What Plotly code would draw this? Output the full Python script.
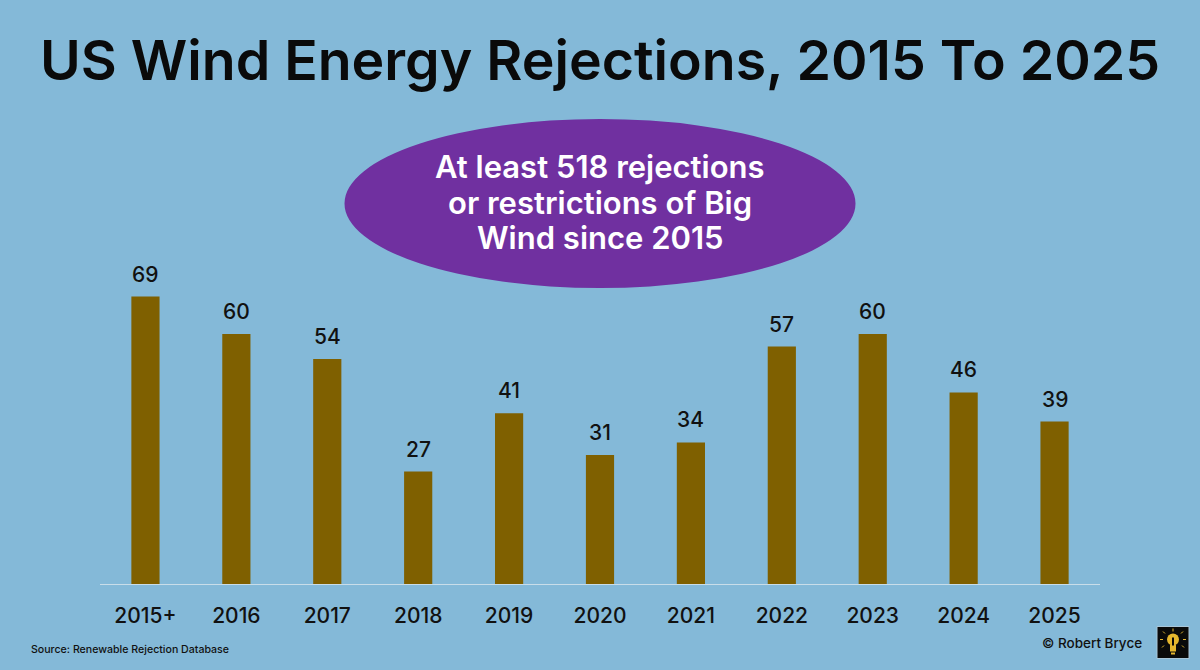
import plotly.graph_objects as go

categories = ["2015+", "2016", "2017", "2018", "2019", "2020", "2021", "2022", "2023", "2024", "2025"]
values = [69, 60, 54, 27, 41, 31, 34, 57, 60, 46, 39]
callout_lines = ["At least 518 rejections", "or restrictions of Big", "Wind since 2015"]

BG = "#84b9d8"
FONT = "Inter, 'Open Sans', sans-serif"
INK = "#111111"


def px(x):
    return (x - 100) / 1000


def py(y):
    return (584 - y) / 584


fig = go.Figure(go.Bar(
    x=categories, y=values, marker=dict(color="#7f6000", line=dict(width=0)),
    width=0.31, hoverinfo="skip",
))

fig.update_layout(
    width=1200, height=670, autosize=False,
    paper_bgcolor=BG, plot_bgcolor=BG, showlegend=False,
    margin=dict(l=100, r=100, t=0, b=86),
    xaxis=dict(type="category", categoryorder="array", categoryarray=categories,
               range=[-0.5, len(categories) - 0.5],
               tickfont=dict(family=FONT, size=21, color=INK, weight=500),
               showgrid=False, showline=True, linecolor="#c9dde9", linewidth=1,
               ticks="outside", ticklen=13, tickcolor="rgba(0,0,0,0)", fixedrange=True),
    yaxis=dict(visible=False, range=[0, 584 / 4.165], fixedrange=True),
    font=dict(family=FONT),
)

for i, v in enumerate(values):
    fig.add_annotation(x=i, y=v, text=str(v), showarrow=False, yanchor="bottom", yshift=8,
                       font=dict(family=FONT, size=21, color=INK, weight=500))

fig.add_annotation(text="US Wind Energy Rejections, 2015 To 2025", xref="paper", yref="paper",
                   x=px(599.5), xanchor="center", y=py(60), yanchor="middle", showarrow=False,
                   font=dict(family=FONT, size=55.4, color="#0a0a0a", weight=600))
fig.add_shape(type="circle", xref="paper", yref="paper", xsizemode="pixel", ysizemode="pixel",
              xanchor=px(600), yanchor=py(203.5), x0=-255.5, x1=255.5, y0=-84.5, y1=84.5,
              fillcolor="#7030a0", line=dict(width=0), layer="below")
for line, yc in zip(callout_lines, [166, 202, 238]):
    fig.add_annotation(text=line, xref="paper", yref="paper", x=px(600), xanchor="center",
                       y=py(yc), yanchor="middle", showarrow=False,
                       font=dict(family=FONT, size=31, color="white", weight=600))
fig.add_annotation(text="Source: Renewable Rejection Database", xref="paper", yref="paper",
                   x=px(31), xanchor="left", xshift=-2, y=py(650), yanchor="middle", showarrow=False,
                   font=dict(family=FONT, size=10.6, color=INK, weight=500))
fig.add_annotation(text="© Robert Bryce", xref="paper", yref="paper", x=px(1142), xanchor="right",
                   xshift=2, y=py(643), yanchor="middle", showarrow=False,
                   font=dict(family=FONT, size=13.5, color=INK, weight=500))

# Logo tile: black square with a small yellow light bulb
LOGO_X, LOGO_Y = 1173, 642.5
YELLOW = "#e5b72e"


def logo_shape(kind, x0, y0, x1, y1, **style):
    fig.add_shape(type=kind, xref="paper", yref="paper", xsizemode="pixel", ysizemode="pixel",
                  xanchor=px(LOGO_X), yanchor=py(LOGO_Y), x0=x0, y0=y0, x1=x1, y1=y1, **style)


logo_shape("rect", -16, -16, 16, 16, fillcolor="#0a0a0a", line=dict(color="#a9c6d8", width=1))
logo_shape("circle", -6, -3, 6, 9, fillcolor=YELLOW, line=dict(width=0))
logo_shape("rect", -3, -9, 3, -2, fillcolor=YELLOW, line=dict(width=0))
logo_shape("rect", -2, -12, 2, -10, fillcolor=YELLOW, line=dict(width=0))
logo_shape("rect", -1, -3, 1, 5, fillcolor="#0a0a0a", line=dict(width=0))
for a, b, c, d in [(0, 11, 0, 14), (8, 9, 10, 11), (-8, 9, -10, 11), (10, 3, 13, 3),
                   (-10, 3, -13, 3), (9, -3, 11, -5), (-9, -3, -11, -5)]:
    logo_shape("line", a, b, c, d, line=dict(color=YELLOW, width=1))

fig.write_html("out.html", config=dict(displayModeBar=False),
               post_script="document.body.style.margin='0';document.body.style.background='%s';" % BG)
